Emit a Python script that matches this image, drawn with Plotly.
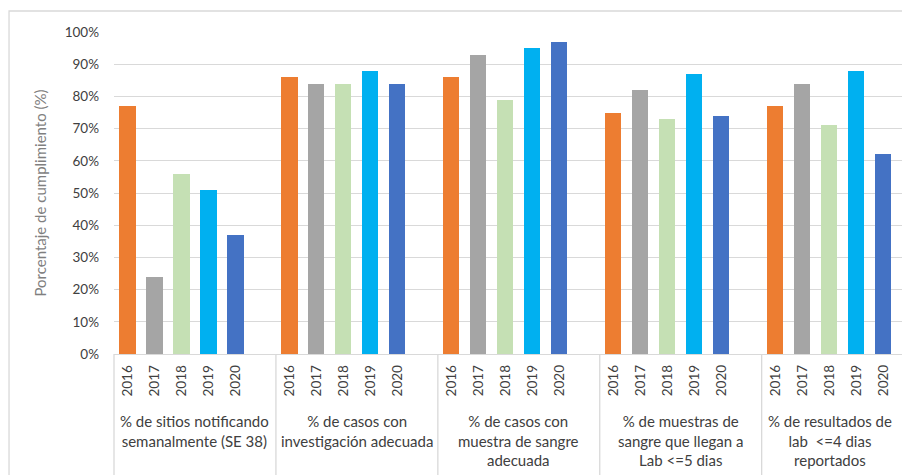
import plotly.graph_objects as go

groups = [
    "% de sitios notificando<br>semanalmente (SE 38)",
    "% de casos con<br>investigación adecuada",
    "% de casos con<br>muestra de sangre<br>adecuada",
    "% de muestras de<br>sangre que llegan a<br>Lab <=5 dias",
    "% de resultados de<br>lab  <=4 dias<br>reportados",
]
years = ["2016", "2017", "2018", "2019", "2020"]
values = {
    "2016": [77, 86, 86, 75, 77],
    "2017": [24, 84, 93, 82, 84],
    "2018": [56, 84, 79, 73, 71],
    "2019": [51, 88, 95, 87, 88],
    "2020": [37, 84, 97, 74, 62],
}
colors = ["#ED7D31", "#A5A5A5", "#C5E0B4", "#00B0F0", "#4472C4"]

SLOTS = 6  # 5 bars + 1 empty slot per group
XMAX = 29.2
FONT = "Lato"
TXT = "#404040"

fig = go.Figure()
for i, yr in enumerate(years):
    xs = [g * SLOTS + i + 0.5 for g in range(len(groups))]
    fig.add_trace(go.Bar(
        x=xs, y=[v / 100 for v in values[yr]], name=yr,
        marker=dict(color=colors[i], line=dict(width=0)), width=0.6,
        showlegend=False,
    ))

annotations = []
for g in range(len(groups)):
    for i, yr in enumerate(years):
        annotations.append(dict(
            x=g * SLOTS + i + 0.5, y=-0.084, xref="x", yref="paper",
            text=yr, textangle=-90, showarrow=False,
            xanchor="center", yanchor="middle",
            font=dict(family=FONT, size=13.5, color=TXT),
        ))
    last = g == len(groups) - 1
    annotations.append(dict(
        x=(XMAX - 0.3) if last else g * SLOTS + 3, y=-0.174,
        xref="x", yref="paper",
        text=groups[g], showarrow=False,
        xanchor="right" if last else "center", yanchor="top",
        align="center", font=dict(family=FONT, size=15, color=TXT),
    ))

shapes = []
for g in range(len(groups) + 1):
    px = g * SLOTS / XMAX
    if px <= 1:
        shapes.append(dict(type="line", xref="paper", yref="paper",
                           x0=px, x1=px, y0=0, y1=-0.5,
                           line=dict(color="#D9D9D9", width=1.3)))
# outer chart frame
shapes.append(dict(type="rect", xref="paper", yref="paper",
                   x0=-0.1332, x1=1.05, y0=-0.6, y1=1.0652,
                   line=dict(color="#D9D9D9", width=1.3), layer="below"))

fig.update_layout(
    width=902, height=475,
    margin=dict(l=114, r=0, t=32, b=121),
    paper_bgcolor="white", plot_bgcolor="white",
    bargap=0, barmode="overlay",
    font=dict(family=FONT, color=TXT),
    xaxis=dict(range=[0, XMAX], showticklabels=False, showgrid=False,
               zeroline=False, showline=True, linecolor="#D9D9D9",
               linewidth=1.3, ticks=""),
    yaxis=dict(range=[0, 1], dtick=0.1, tickformat=".0%",
               showgrid=True, gridcolor="#D9D9D9", gridwidth=1.3,
               zeroline=False, showline=False, ticks="",
               ticklabelstandoff=14,
               tickfont=dict(family=FONT, size=13.5, color=TXT),
               title=dict(text="Porcentaje de cumplimiento (%)", standoff=14,
                          font=dict(family=FONT, size=15, color="#7F7F7F"))),
    annotations=annotations, shapes=shapes,
)
fig.write_html("out.html", config={"displayModeBar": False},
               post_script="document.body.style.margin='0';document.body.style.overflow='hidden';")
